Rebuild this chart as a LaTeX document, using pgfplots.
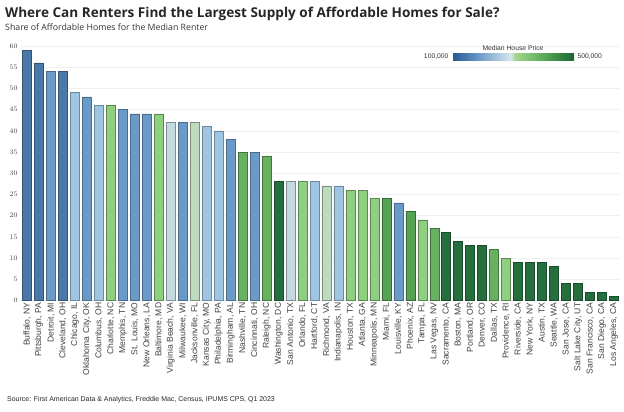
\documentclass[border=0pt]{standalone}
\usepackage{pgfplots}
\pgfplotsset{compat=1.18}
\usepackage{fontspec}
\setmainfont{Liberation Sans}
\newfontfamily\titlefont{Open Sans}
\definecolor{DB}{HTML}{4A78A8}
\definecolor{MB}{HTML}{6A9AC8}
\definecolor{LB}{HTML}{9EC5E2}
\definecolor{PB}{HTML}{C4DAE0}
\definecolor{PG}{HTML}{BDDCBF}
\definecolor{LG}{HTML}{8FD080}
\definecolor{MG}{HTML}{66B260}
\definecolor{GG}{HTML}{56A356}
\definecolor{DG}{HTML}{256E3D}
\begin{document}
\begin{tikzpicture}
\useasboundingbox (0bp,0bp) rectangle (624bp,412bp);
\node[anchor=base west, inner sep=0pt, font=\titlefont\bfseries\fontsize{13.6}{15}\selectfont, text=black!85] at (5bp,394bp) {Where Can Renters Find the Largest Supply of Affordable Homes for Sale?};
\node[anchor=base west, inner sep=0pt, font=\titlefont\fontsize{8.8}{10}\selectfont, text=black!80] at (5bp,381bp) {Share of Affordable Homes for the Median Renter};
\node[anchor=base west, inner sep=0pt, font=\fontsize{7}{8}\selectfont, text=black!85] at (7bp,11bp) {Source: First American Data \& Analytics, Freddie Mac, Census, IPUMS CPS, Q1 2023};
\begin{axis}[
  at={(21bp,111.5bp)}, anchor=south west,
  scale only axis, width=599bp, height=254.5bp,
  xmin=-0.5, xmax=49.5, ymin=0, ymax=60,
  ybar, bar width=9bp,
  every axis plot/.append style={bar shift=0pt, line width=0.6bp},
  axis line style={draw=none},
  major tick length=0pt,
  ytick={0,5,...,60},
  ymajorgrids, grid style={black!6, line width=0.4bp},
  xtick={0,...,49},
  xticklabels={{Buffalo, NY},{Pittsburgh, PA},{Detroit, MI},{Cleveland, OH},{Chicago, IL},{Oklahoma City, OK},{Columbus, OH},{Charlotte, NC},{Memphis, TN},{St. Louis, MO},{New Orleans, LA},{Baltimore, MD},{Virginia Beach, VA},{Milwaukee, WI},{Jacksonville, FL},{Kansas City, MO},{Philadelphia, PA},{Birmingham, AL},{Nashville, TN},{Cincinnati, OH},{Raleigh, NC},{Washington, DC},{San Antonio, TX},{Orlando, FL},{Hartford, CT},{Richmond, VA},{Indianapolis, IN},{Houston, TX},{Atlanta, GA},{Minneapolis, MN},{Miami, FL},{Louisville, KY},{Phoenix, AZ},{Tampa, FL},{Las Vegas, NV},{Sacramento, CA},{Boston, MA},{Portland, OR},{Denver, CO},{Dallas, TX},{Providence, RI},{Riverside, CA},{New York, NY},{Austin, TX},{Seattle, WA},{San Jose, CA},{Salt Lake City, UT},{San Francisco, CA},{San Diego, CA},{Los Angeles, CA}},
  y tick label style={font=\fontsize{7.5}{8}\selectfont, text=black!75},
  x tick label style={font=\fontsize{8.6}{9}\selectfont, text=black!75, rotate=90, anchor=east, inner sep=2bp},
  xticklabel pos=lower,
  clip=false,
  colormap={cm}{rgb255(0)=(40,88,145); rgb255(4)=(100,148,196); rgb255(9.6)=(214,230,238); rgb255(10.4)=(160,215,140); rgb255(15)=(90,170,90); rgb255(20)=(28,100,52)},
  point meta min=100000, point meta max=500000,
  colorbar horizontal,
  colorbar style={
    at={(parent axis.south west)}, anchor=south west,
    xshift=431bp, yshift=248.5bp,
    scale only axis, width=122bp, height=7.3bp,
    xtick=\empty, axis line style={draw=none},
    title={Median House Price},
    title style={font=\fontsize{6.8}{7}\selectfont, text=black!80, yshift=-7bp},
    extra description/.code={
      \node[anchor=east, font=\fontsize{6.8}{7}\selectfont, text=black!80] at (rel axis cs:0,0.5) {100,000};
      \node[anchor=west, font=\fontsize{6.8}{7}\selectfont, text=black!80] at (rel axis cs:1,0.5) {500,000};
    },
  },
]
\addplot[fill=DB, draw=DB!70!black] coordinates {(0,59) (1,56) (3,54)};
\addplot[fill=MB, draw=MB!70!black] coordinates {(2,54) (5,48) (8,45) (9,44) (10,44) (13,42) (17,38) (19,35) (31,23)};
\addplot[fill=LB, draw=LB!70!black] coordinates {(4,49) (6,46) (15,41) (16,40) (24,28) (26,27)};
\addplot[fill=PB, draw=PB!65!black] coordinates {(12,42) (22,28)};
\addplot[fill=PG, draw=PG!65!black] coordinates {(14,42) (25,27)};
\addplot[fill=LG, draw=LG!65!black] coordinates {(7,46) (11,44) (23,28) (27,26) (28,26) (29,24) (33,19) (40,10)};
\addplot[fill=MG, draw=MG!65!black] coordinates {(18,35) (20,34) (34,17) (39,12)};
\addplot[fill=GG, draw=GG!65!black] coordinates {(30,24) (32,21)};
\addplot[fill=DG, draw=DG!70!black] coordinates {(21,28) (35,16) (36,14) (37,13) (38,13) (41,9) (42,9) (43,9) (44,8) (45,4) (46,4) (47,2) (48,2) (49,1)};
\end{axis}
\end{tikzpicture}
\end{document}
